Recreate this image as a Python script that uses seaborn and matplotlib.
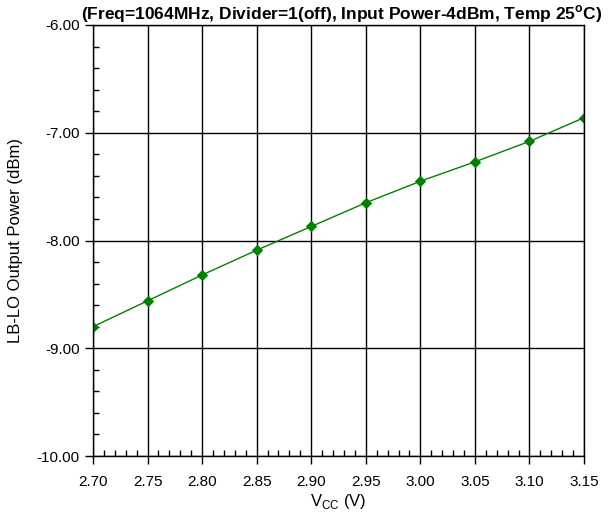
import matplotlib
matplotlib.use("Agg")
import matplotlib.pyplot as plt
import seaborn as sns
import pandas as pd
import numpy as np
from matplotlib.ticker import MultipleLocator, FormatStrFormatter

vcc = [2.70, 2.75, 2.80, 2.85, 2.90, 2.95, 3.00, 3.05, 3.10, 3.15]
power = [-8.80, -8.56, -8.32, -8.09, -7.87, -7.65, -7.45, -7.27, -7.08, -6.86]

df = pd.DataFrame({"vcc": vcc, "power": power})

sns.set_style("white")
plt.rcParams['font.family'] = ['Liberation Sans', 'DejaVu Sans']
plt.rcParams['text.color'] = 'black'
plt.rcParams['axes.labelcolor'] = 'black'

fig = plt.figure(figsize=(6.13, 5.16), dpi=100)
ax = fig.add_axes([93/613, 1-456/516, (584-93)/613, (456-25)/516])

sns.lineplot(data=df, x="vcc", y="power", ax=ax, color="#008000", linewidth=1.0,
             marker="D", markersize=5, markeredgecolor="#008000")

ax.set_xlim(2.70, 3.15)
ax.set_ylim(-10, -6)
ax.xaxis.set_major_locator(MultipleLocator(0.05))
ax.xaxis.set_minor_locator(MultipleLocator(0.01))
ax.yaxis.set_major_locator(MultipleLocator(1.0))
ax.yaxis.set_minor_locator(MultipleLocator(0.2))
ax.xaxis.set_major_formatter(FormatStrFormatter("%.2f"))
ax.yaxis.set_major_formatter(FormatStrFormatter("%.2f"))
ax.grid(True, which="major", color="black", linewidth=1.0)
ax.set_axisbelow(True)
ax.tick_params(which="both", bottom=True, left=True, top=False, right=False)
ax.tick_params(which="major", direction="out", length=6, width=1, colors="black", labelsize=11)
ax.tick_params(which="minor", direction="in", length=4, width=1, colors="black")
ax.tick_params(axis="x", which="major", pad=8)
for s in ax.spines.values():
    s.set_color("black")
    s.set_linewidth(1.0)

ax.set_xlabel(r"V$_{\mathregular{CC}}$ (V)", fontsize=12, labelpad=2)
ax.set_ylabel("LB-LO Output Power (dBm)", fontsize=12, labelpad=10)
fig.text(342/613, 1-3/516,
         r"(Freq=1064MHz, Divider=1(off), Input Power-4dBm, Temp 25$^{\mathregular{o}}$C)",
         fontsize=12.5, fontweight="bold", ha="center", va="top")

fig.savefig("out.png", dpi=100)
